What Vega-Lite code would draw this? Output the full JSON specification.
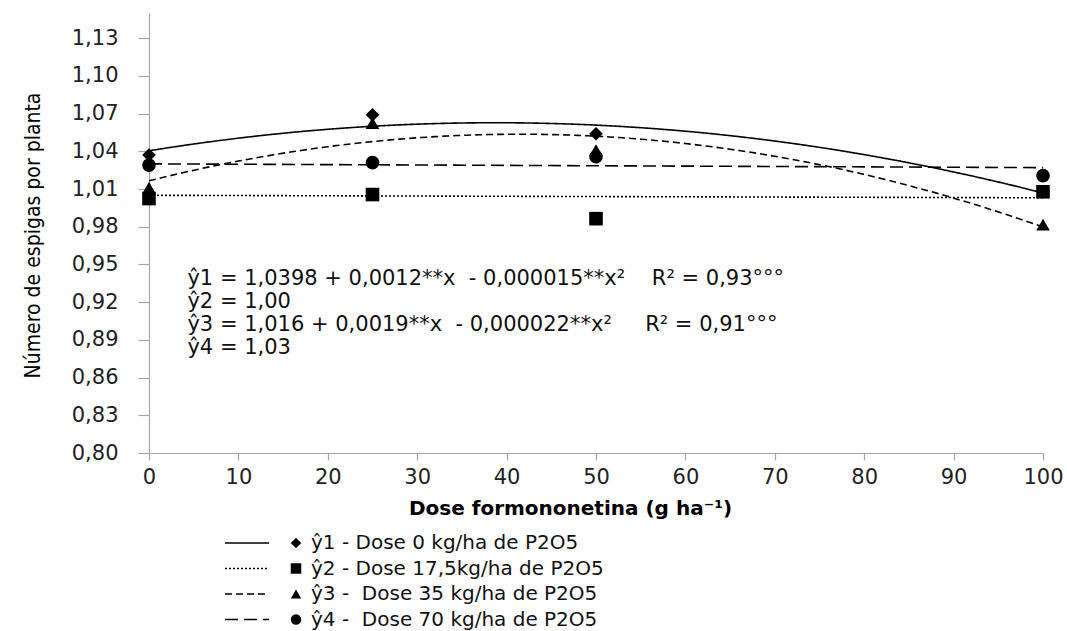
{
  "$schema": "https://vega.github.io/schema/vega-lite/v6.json",
  "width": 894,
  "height": 440,
  "autosize": {"type": "none"},
  "padding": {"left": 149, "top": 13, "right": 24, "bottom": 178},
  "background": "white",
  "datasets": {
    "pontos": [
      {"serie": "ŷ1 - Dose 0 kg/ha de P2O5", "linha": "L1", "x": 0, "y": 1.037},
      {"serie": "ŷ1 - Dose 0 kg/ha de P2O5", "linha": "L1", "x": 25, "y": 1.069},
      {"serie": "ŷ1 - Dose 0 kg/ha de P2O5", "linha": "L1", "x": 50, "y": 1.054},
      {"serie": "ŷ1 - Dose 0 kg/ha de P2O5", "linha": "L1", "x": 100, "y": 1.008},
      {"serie": "ŷ2 - Dose 17,5kg/ha de P2O5", "linha": "L2", "x": 0, "y": 1.0024},
      {"serie": "ŷ2 - Dose 17,5kg/ha de P2O5", "linha": "L2", "x": 25, "y": 1.0056},
      {"serie": "ŷ2 - Dose 17,5kg/ha de P2O5", "linha": "L2", "x": 50, "y": 0.9864},
      {"serie": "ŷ2 - Dose 17,5kg/ha de P2O5", "linha": "L2", "x": 100, "y": 1.0078},
      {"serie": "ŷ3 - \u00a0Dose 35 kg/ha de P2O5", "linha": "L3", "x": 0, "y": 1.011},
      {"serie": "ŷ3 - \u00a0Dose 35 kg/ha de P2O5", "linha": "L3", "x": 25, "y": 1.0624},
      {"serie": "ŷ3 - \u00a0Dose 35 kg/ha de P2O5", "linha": "L3", "x": 50, "y": 1.041},
      {"serie": "ŷ3 - \u00a0Dose 35 kg/ha de P2O5", "linha": "L3", "x": 100, "y": 0.9816},
      {"serie": "ŷ4 - \u00a0Dose 70 kg/ha de P2O5", "linha": "L4", "x": 0, "y": 1.029},
      {"serie": "ŷ4 - \u00a0Dose 70 kg/ha de P2O5", "linha": "L4", "x": 25, "y": 1.031},
      {"serie": "ŷ4 - \u00a0Dose 70 kg/ha de P2O5", "linha": "L4", "x": 50, "y": 1.0357},
      {"serie": "ŷ4 - \u00a0Dose 70 kg/ha de P2O5", "linha": "L4", "x": 100, "y": 1.0206}
    ],
    "medias": [
      {"linha": "L2", "x": 0, "y": 1.005},
      {"linha": "L2", "x": 100, "y": 1.003},
      {"linha": "L4", "x": 0, "y": 1.030},
      {"linha": "L4", "x": 100, "y": 1.027}
    ],
    "equacoes": [
      {"texto": "ŷ1 = 1,0398 + 0,0012**x \u00a0- 0,000015**x² \u00a0 \u00a0R² = 0,93°°°\nŷ2 = 1,00\nŷ3 = 1,016 + 0,0019**x \u00a0- 0,000022**x² \u00a0 \u00a0 R² = 0,91°°°\nŷ4 = 1,03"}
    ]
  },
  "layer": [
    {
      "data": {"name": "pontos"},
      "transform": [
        {"filter": "datum.linha === 'L1' || datum.linha === 'L3'"},
        {"regression": "y", "on": "x", "method": "poly", "order": 2, "groupby": ["linha"]}
      ],
      "mark": {"type": "line", "color": "black", "strokeWidth": 1.6},
      "encoding": {
        "x": {
          "field": "x",
          "type": "quantitative",
          "scale": {"domain": [0, 100], "nice": false},
          "axis": {
            "values": [0, 10, 20, 30, 40, 50, 60, 70, 80, 90, 100],
            "tickCount": 20,
            "title": "Dose formononetina (g ha⁻¹)",
            "titleFont": "DejaVu Sans",
            "titleFontSize": 20,
            "titleFontWeight": "bold",
            "titleColor": "black",
            "titleX": 421,
            "titleY": 55,
            "titleBaseline": "middle",
            "labelFont": "DejaVu Sans",
            "labelFontSize": 21,
            "labelColor": "#222222",
            "labelPadding": 6,
            "labelFlush": false,
            "labelOverlap": false,
            "domainColor": "#a6a6a6",
            "tickColor": "#a6a6a6",
            "tickSize": 7,
            "grid": false
          }
        },
        "y": {
          "field": "y",
          "type": "quantitative",
          "scale": {"domain": [0.8, 1.15], "nice": false, "zero": false},
          "axis": {
            "values": [0.8, 0.83, 0.86, 0.89, 0.92, 0.95, 0.98, 1.01, 1.04, 1.07, 1.1, 1.13],
            "tickCount": 30,
            "labelExpr": "replace(format(datum.value, '.2f'), '.', ',')",
            "title": "Número de espigas por planta",
            "titleFont": "Liberation Sans Narrow, DejaVu Sans Condensed",
            "titleFontSize": 21,
            "titleFontWeight": "normal",
            "titleColor": "black",
            "titleX": -116,
            "titleY": 222,
            "titleBaseline": "middle",
            "labelFont": "DejaVu Sans",
            "labelFontSize": 21,
            "labelColor": "#222222",
            "labelPadding": 20,
            "labelFlush": false,
            "labelOverlap": false,
            "domainColor": "#a6a6a6",
            "tickColor": "#a6a6a6",
            "tickSize": 11,
            "grid": false
          }
        },
        "strokeDash": {
          "field": "linha",
          "type": "nominal",
          "scale": {
            "domain": ["L1", "L2", "L3", "L4"],
            "range": [[1, 0], [2, 2], [7, 4], [13, 6]]
          },
          "legend": {
            "orient": "none",
            "legendX": 88,
            "legendY": 520,
            "title": null,
            "padding": 0,
            "symbolType": "M-4.4,0H4.4",
            "symbolSize": 100,
            "symbolStrokeWidth": 1.6,
            "symbolStrokeColor": "black",
            "symbolFillColor": "transparent",
            "labelExpr": "''",
            "labelFont": "DejaVu Sans",
            "labelFontSize": 20,
            "rowPadding": 5.5
          }
        }
      }
    },
    {
      "data": {"name": "medias"},
      "mark": {"type": "line", "color": "black", "strokeWidth": 1.6},
      "encoding": {
        "x": {"field": "x", "type": "quantitative"},
        "y": {"field": "y", "type": "quantitative"},
        "strokeDash": {"field": "linha", "type": "nominal"}
      }
    },
    {
      "data": {"name": "pontos"},
      "mark": {"type": "point", "filled": true, "color": "black", "opacity": 1, "size": 185},
      "encoding": {
        "x": {"field": "x", "type": "quantitative"},
        "y": {"field": "y", "type": "quantitative"},
        "shape": {
          "field": "serie",
          "type": "nominal",
          "scale": {
            "domain": [
              "ŷ1 - Dose 0 kg/ha de P2O5",
              "ŷ2 - Dose 17,5kg/ha de P2O5",
              "ŷ3 - \u00a0Dose 35 kg/ha de P2O5",
              "ŷ4 - \u00a0Dose 70 kg/ha de P2O5"
            ],
            "range": ["diamond", "square", "triangle-up", "circle"]
          },
          "legend": {
            "orient": "none",
            "legendX": 137,
            "legendY": 520,
            "title": null,
            "padding": 0,
            "symbolSize": 110,
            "symbolFillColor": "black",
            "symbolStrokeColor": "black",
            "symbolStrokeWidth": 0,
            "labelFont": "DejaVu Sans",
            "labelFontSize": 20,
            "labelColor": "#111111",
            "labelOffset": 5,
            "labelLimit": 600,
            "rowPadding": 5.5
          }
        }
      }
    },
    {
      "data": {"name": "equacoes"},
      "mark": {
        "type": "text",
        "align": "left",
        "baseline": "top",
        "lineBreak": "\n",
        "lineHeight": 23,
        "font": "DejaVu Sans",
        "fontSize": 21,
        "color": "#111111"
      },
      "encoding": {
        "x": {"datum": 4.3},
        "y": {"datum": 0.947},
        "text": {"field": "texto"}
      }
    }
  ],
  "config": {
    "view": {"stroke": null},
    "axis": {"domainWidth": 1.2, "tickWidth": 1.2}
  }
}
